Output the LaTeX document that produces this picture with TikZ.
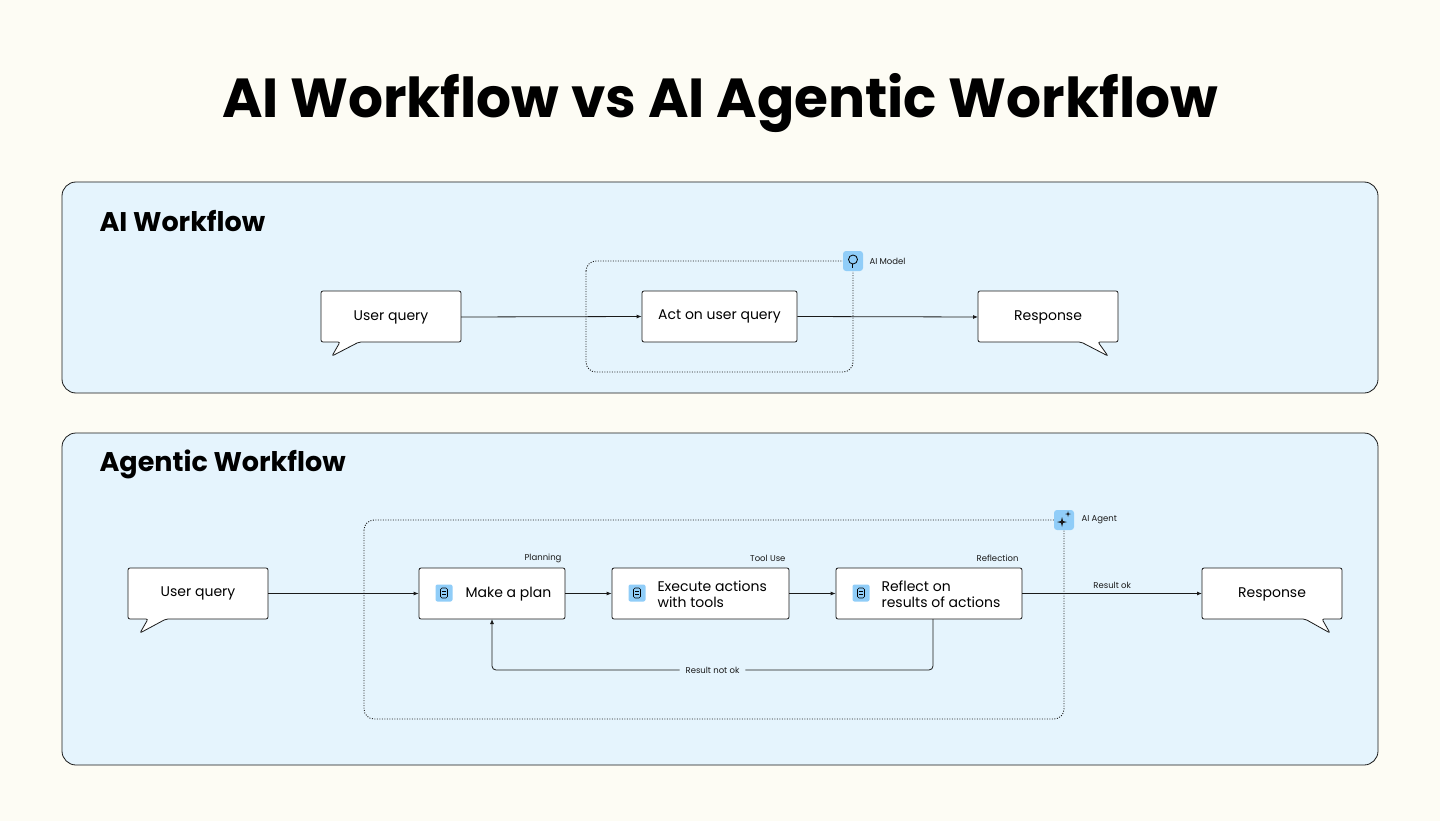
\documentclass[tikz,border=0pt]{standalone}
\usepackage{fontspec}
\setmainfont{Poppins}
\usetikzlibrary{arrows.meta}
\definecolor{bg}{HTML}{FDFCF4}
\definecolor{panel}{HTML}{E5F4FD}
\definecolor{ic}{HTML}{90CDF8}
\definecolor{ln}{HTML}{1A1A1A}
\begin{document}
\begin{tikzpicture}[x=1pt,y=-1pt,
 panel/.style={draw=ln,fill=panel,rounded corners=14pt,line width=0.8pt},
 box/.style={draw=ln,fill=white,rounded corners=2pt,line width=0.8pt,font=\fontsize{14}{16}\selectfont,align=left},
 dot/.style={draw=ln,dash pattern=on 1pt off 1.5pt,line width=0.9pt,rounded corners=10pt},
 arr/.style={-{Latex[length=5pt,width=4pt]},line width=0.8pt,draw=ln},
 small/.style={font=\fontsize{8.5}{10}\selectfont,text=ln},
 icon/.style={fill=ic,rounded corners=3pt,minimum size=20pt,inner sep=0pt},
 sicon/.style={fill=ic,rounded corners=2pt,minimum size=17pt,inner sep=0pt}]
\useasboundingbox (0,0) rectangle (1440,821);
\fill[bg] (0,0) rectangle (1440,821);
\node[font=\fontsize{55}{62}\selectfont\bfseries] (title) at (720,103) {AI Workflow vs AI Agentic Workflow};
% panel 1
\draw[panel] (62,182) rectangle (1378,393);
\node[anchor=west,font=\fontsize{27}{30}\selectfont\bfseries] (t1) at (96,221) {AI Workflow};
\draw[dot] (586,261) rectangle (853,372);
\node[icon] (i1) at (853,261) {};
\draw[line width=0.8pt] (i1.center) ++(0,-1.5) circle (4.5pt);
\draw[line width=0.8pt] (i1.center) ++(-1,3) -- ++(0,4);
\node[small,anchor=west] (l1) at (866,261) {AI Model};
\draw[ln,fill=white,line width=0.8pt,rounded corners=2pt] (321,291) -- (461,291) -- (461,342) -- (359,342) -- (332,356) -- (340,342) -- (321,342) -- cycle;
\node[font=\fontsize{14}{16}\selectfont] (uq1) at (391,317) {User query};
\node[box,minimum width=155pt,minimum height=51pt,align=center] (act) at (719.5,316.5) {Act on user query};
\draw[ln,fill=white,line width=0.8pt,rounded corners=2pt] (978,291) -- (1118,291) -- (1118,342) -- (1098,342) -- (1108,356) -- (1081,342) -- (978,342) -- cycle;
\node[font=\fontsize{14}{16}\selectfont] (rs1) at (1048,317) {Response};
\coordinate (uq1e) at (461,317);
\coordinate (rs1w) at (978,317);
\draw[arr] (uq1e) -- (act.west);
\draw[arr] (act.east) -- (rs1w);
% panel 2
\draw[panel] (62,433) rectangle (1378,765);
\node[anchor=west,font=\fontsize{27}{30}\selectfont\bfseries] (t2) at (96,464) {Agentic Workflow};
\draw[dot] (364,520) rectangle (1064,719);
\node[icon] (i2) at (1064,520) {};
\fill[ln] (1062,517) -- (1063,521) -- (1067,522) -- (1063,523) -- (1062,527) -- (1061,523) -- (1057,522) -- (1061,521) -- cycle;
\fill[ln] (1068,511) -- (1068.6,513.4) -- (1071,514) -- (1068.6,514.6) -- (1068,517) -- (1067.4,514.6) -- (1065,514) -- (1067.4,513.4) -- cycle;
\node[small,anchor=west] (l2) at (1078,520) {AI Agent};
\draw[ln,fill=white,line width=0.8pt,rounded corners=2pt] (128,568) -- (268,568) -- (268,619) -- (166,619) -- (140,633) -- (148,619) -- (128,619) -- cycle;
\node[font=\fontsize{14}{16}\selectfont] (uq2) at (198,593) {User query};
\node[box,minimum width=146pt,minimum height=51pt] (plan) at (492,593.5) {};
\node[sicon] (ip) at (444,593) {};
\node[font=\fontsize{14}{16}\selectfont,anchor=west] at (462,594) {Make a plan};
\node[box,minimum width=177pt,minimum height=51pt] (exe) at (700.5,593.5) {};
\node[sicon] (ie) at (637,593) {};
\node[font=\fontsize{14}{16}\selectfont,anchor=west,align=left] at (654,594) {Execute actions\\with tools};
\node[box,minimum width=186pt,minimum height=51pt] (ref) at (929,593.5) {};
\node[sicon] (ir) at (861,593) {};
\node[font=\fontsize{14}{16}\selectfont,anchor=west,align=left] at (878,594) {Reflect on\\results of actions};
\foreach \n in {ip,ie,ir}{\draw[line width=0.6pt,rounded corners=1.5pt] (\n.center) ++(-3.5,-5) rectangle ++(7,10);
 \draw[line width=0.5pt] (\n.center) ++(-2,-1.5) -- ++(4,0) (\n.center) ++(-2,1.5) -- ++(4,0);}
\draw[ln,fill=white,line width=0.8pt,rounded corners=2pt] (1202,568) -- (1342,568) -- (1342,619) -- (1322,619) -- (1330,633) -- (1305,619) -- (1202,619) -- cycle;
\node[font=\fontsize{14}{16}\selectfont] (rs2) at (1272,594) {Response};
\node[small,anchor=east] at (565,558) {Planning};
\node[small,anchor=east] at (789,558) {Tool Use};
\node[small,anchor=east] at (1022,558) {Reflection};
\coordinate (uq2e) at (268,593.5);
\coordinate (rs2w) at (1202,593.5);
\draw[arr] (uq2e) -- (plan.west);
\draw[arr] (plan.east) -- (exe.west);
\draw[arr] (exe.east) -- (ref.west);
\draw[arr] (ref.east) -- node[small,above=1pt] {Result ok} (rs2w);
\coordinate (rb) at (933,619);
\coordinate (pb) at (492,619);
\draw[arr,rounded corners=4pt] (rb) -- (933,670) -- node[small,fill=panel,inner xsep=6pt] {Result not ok} (492,670) -- (pb);
\end{tikzpicture}
\end{document}
